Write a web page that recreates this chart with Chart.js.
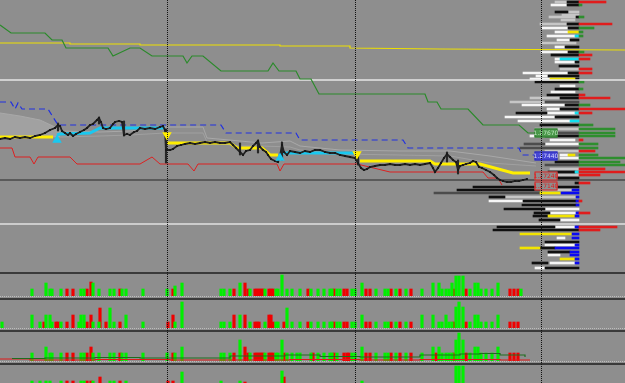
<!DOCTYPE html>
<html>
<head>
<meta charset="utf-8">
<script src="https://cdn.jsdelivr.net/npm/chart.js@4/dist/chart.umd.min.js"></script>
<style>
html, body { margin: 0; padding: 0; width: 625px; height: 383px; overflow: hidden; background: #8e8e8e; }
canvas { position: absolute; left: 0; display: block; }
.sep { position: absolute; left: 0; width: 625px; height: 2px; background: #3a3a3a; z-index: 4; }
.base { position: absolute; left: 0; width: 625px; height: 0; border-top: 1px dotted #bdbdbd; z-index: 3; }
.vline { position: absolute; top: 0; width: 0; height: 383px; border-left: 1px dotted #111; z-index: 5; }
</style>
</head>
<body>
<canvas id="profile" width="625" height="272" style="top:0;z-index:1"></canvas>
<canvas id="main" width="625" height="272" style="top:0;z-index:2"></canvas>
<canvas id="vol1" width="625" height="22" style="top:274px"></canvas>
<canvas id="vol2" width="625" height="28" style="top:300px"></canvas>
<canvas id="vol3" width="625" height="29" style="top:332px"></canvas>
<canvas id="vol4" width="625" height="29" style="top:365px"></canvas>
<div class="sep" style="top:272px"></div>
<div class="sep" style="top:298px"></div>
<div class="sep" style="top:330px"></div>
<div class="sep" style="top:363px"></div>
<div class="base" style="top:296px"></div>
<div class="base" style="top:328px"></div>
<div class="base" style="top:361px"></div>
<div class="vline" style="left:167px"></div>
<div class="vline" style="left:355px"></div>
<div class="vline" style="left:541px"></div>
<script>
const PRICE_MIN = 1.2628, PRICE_MAX = 1.2900;
const BAR_MAX = 625;

// ---- main window lines (bar index, price) ----
const greenX = [0, 11, 45, 52, 62, 66, 108, 113, 130, 140, 152, 183, 187, 192, 203, 221, 268, 273, 279, 296, 300, 311, 319, 425, 428, 437, 441, 468, 483, 519, 528, 536];
const greenP = [1.2875, 1.2867, 1.2867, 1.2860, 1.2860, 1.2852, 1.2852, 1.2844, 1.2852, 1.2852, 1.2844, 1.2844, 1.2837, 1.2844, 1.2844, 1.2829, 1.2829, 1.2837, 1.2829, 1.2829, 1.2821, 1.2821, 1.2806, 1.2806, 1.2798, 1.2798, 1.2791, 1.2791, 1.2775, 1.2775, 1.2767, 1.2767];

const yellowThinX = [0, 70, 70, 140, 140, 280, 280, 350, 350, 440, 625];
const yellowThinP = [1.2857, 1.2857, 1.2856, 1.2856, 1.2855, 1.2855, 1.2854, 1.2854, 1.2852, 1.2851, 1.2850];

const levelX = [0, 625];
const whiteHighP = [1.2820, 1.2820];
const whiteLowP = [1.2676, 1.2676];
const blackLevelP = [1.2720, 1.2720];

const blueX = [0, 11, 15, 18, 22, 48, 58, 221, 226, 296, 300, 403, 408, 519, 522, 536];
const blueP = [1.2798, 1.2798, 1.2791, 1.2797, 1.2791, 1.2791, 1.2775, 1.2775, 1.2767, 1.2767, 1.2760, 1.2760, 1.2752, 1.2752, 1.2745, 1.2745];

const redX = [0, 12, 15, 30, 34, 38, 70, 77, 140, 152, 160, 188, 194, 198, 277, 280, 284, 357, 390, 483, 488, 498, 502];
const redP = [1.2752, 1.2752, 1.2743, 1.2743, 1.2736, 1.2743, 1.2743, 1.2736, 1.2736, 1.2743, 1.2736, 1.2736, 1.2729, 1.2736, 1.2736, 1.2729, 1.2736, 1.2736, 1.2728, 1.2728, 1.2722, 1.2722, 1.2715];

const closeX = [0, 5, 10, 15, 20, 25, 30, 35, 40, 45, 50, 55, 58, 60, 62, 65, 68, 70, 73, 76, 80, 84, 87, 90, 93, 97, 99, 101, 103, 106, 110, 113, 115, 119, 122, 124, 127, 130, 134, 137, 140, 145, 150, 155, 160, 163, 165, 166, 170, 173, 177, 181, 185, 190, 195, 200, 205, 210, 215, 220, 225, 230, 233, 236, 240, 243, 246, 250, 253, 256, 258, 260, 263, 266, 268, 271, 275, 278, 280, 282, 284, 287, 290, 295, 300, 305, 310, 315, 320, 325, 330, 335, 340, 345, 350, 355, 358, 361, 364, 367, 370, 375, 380, 385, 390, 395, 400, 405, 410, 415, 420, 425, 430, 433, 435, 438, 441, 444, 447, 450, 453, 456, 458, 460, 463, 466, 470, 473, 476, 479, 482, 486, 490, 494, 497, 500, 503, 507, 511, 515, 519, 523, 527];
const closeP = [1.2761, 1.2762, 1.2761, 1.2763, 1.2762, 1.2763, 1.2762, 1.2764, 1.2765, 1.2767, 1.2770, 1.2772, 1.2775, 1.2774, 1.2769, 1.2767, 1.2765, 1.2767, 1.2764, 1.2766, 1.2768, 1.2770, 1.2772, 1.2775, 1.2776, 1.2780, 1.2782, 1.2778, 1.2772, 1.2771, 1.2772, 1.2776, 1.2778, 1.2779, 1.2778, 1.2765, 1.2766, 1.2765, 1.2768, 1.2769, 1.2772, 1.2771, 1.2772, 1.2771, 1.2773, 1.2774, 1.2770, 1.2750, 1.2750, 1.2751, 1.2754, 1.2755, 1.2756, 1.2757, 1.2756, 1.2757, 1.2758, 1.2757, 1.2758, 1.2757, 1.2757, 1.2758, 1.2755, 1.2752, 1.2748, 1.2745, 1.2749, 1.2750, 1.2754, 1.2757, 1.2759, 1.2753, 1.2750, 1.2748, 1.2745, 1.2741, 1.2739, 1.2738, 1.2744, 1.2755, 1.2748, 1.2745, 1.2749, 1.2748, 1.2747, 1.2749, 1.2748, 1.2750, 1.2750, 1.2748, 1.2747, 1.2747, 1.2745, 1.2744, 1.2743, 1.2742, 1.2737, 1.2732, 1.2730, 1.2731, 1.2733, 1.2734, 1.2735, 1.2735, 1.2736, 1.2735, 1.2735, 1.2736, 1.2735, 1.2736, 1.2735, 1.2736, 1.2737, 1.2732, 1.2728, 1.2732, 1.2737, 1.2742, 1.2746, 1.2743, 1.2740, 1.2738, 1.2730, 1.2734, 1.2735, 1.2736, 1.2737, 1.2739, 1.2738, 1.2733, 1.2732, 1.2730, 1.2728, 1.2725, 1.2722, 1.2720, 1.2719, 1.2718, 1.2718, 1.2719, 1.2719, 1.2720, 1.2721];

// long candles: bar, low, high
const wickX = [58, 99, 124, 166, 240, 258, 282, 358, 447, 458];
const wickLow = [1.2769, 1.2776, 1.2764, 1.2737, 1.2745, 1.2747, 1.2740, 1.2735, 1.2738, 1.2726];
const wickHigh = [1.2777, 1.2783, 1.2779, 1.2771, 1.2757, 1.2760, 1.2758, 1.2747, 1.2748, 1.2740];

// trend stop line, alternating colour
const trendYellowAX = [0, 53];
const trendYellowAP = [1.2763, 1.2763];
const trendCyanAX = [57, 60, 90, 100, 165];
const trendCyanAP = [1.2765, 1.2766, 1.2767, 1.2772, 1.2772];
const trendYellowBX = [167, 230, 237, 262, 270, 278];
const trendYellowBP = [1.2757, 1.2757, 1.2752, 1.2752, 1.2745, 1.2745];
const trendCyanBX = [283, 355];
const trendCyanBP = [1.2747, 1.2747];
const trendYellowCX = [360, 430, 435, 480, 513, 530];
const trendYellowCP = [1.2739, 1.2739, 1.2736, 1.2736, 1.2727, 1.2727];

// envelope: hatched part on the left, thin lines afterwards
const cloudLeftX = [0, 20, 40, 55, 60];
const cloudLeftTopP = [1.2787, 1.2784, 1.2780, 1.2773, 1.2769];
const cloudLeftBotP = [1.2763, 1.2763, 1.2763, 1.2763, 1.2763];
const cloudX = [60, 100, 130, 165, 203, 207, 240, 262, 290, 300, 340, 400, 450, 490, 536];
const cloudTopP = [1.2769, 1.2768, 1.2769, 1.2773, 1.2773, 1.2762, 1.2759, 1.2757, 1.2759, 1.2754, 1.2750, 1.2749, 1.2749, 1.2744, 1.2737];
const cloudBotP = [1.2763, 1.2764, 1.2765, 1.2767, 1.2767, 1.2758, 1.2754, 1.2754, 1.2753, 1.2750, 1.2746, 1.2745, 1.2744, 1.2737, 1.2734];

const arrowUpX = [57, 280];
const arrowUpP = [1.2760, 1.2742];
const arrowDownX = [167, 357];
const arrowDownP = [1.2765, 1.2746];

const boxBar = 546;
const boxP = [1.2767, 1.2744, 1.2724, 1.2714];
const boxText = ['1.27670', '1.27440', '1.27240', '1.27140'];
const boxFill = ['#4a984a', '#4646d4', '#8e8e8e', '#8e8e8e'];
const boxEdge = ['#2c7a2c', '#2a2ab8', '#e02020', '#e02020'];
const boxInk = ['#bfe8bf', '#d4d4ff', '#e02020', '#e02020'];

// ---- market profile rows: price, from bar, to bar ----
const profLight = [[1.2898, 555, 567], [1.2888, 568, 579], [1.2885, 562, 579], [1.2883, 549, 576], [1.2880, 561, 575], [1.2876, 540, 567], [1.2857, 541, 576], [1.2831, 560, 579], [1.2802, 530, 560], [1.2798, 510, 545], [1.2771, 535, 579], [1.2749, 545, 579], [1.2731, 550, 579], [1.2725, 555, 579], [1.2710, 540, 572], [1.2703, 505, 576]];
const profWhite = [[1.2895, 551, 567], [1.2872, 542, 568], [1.2868, 555, 568], [1.2864, 547, 575], [1.2860, 557, 570], [1.2853, 555, 565], [1.2848, 541, 568], [1.2841, 555, 560], [1.2838, 555, 575], [1.2827, 523, 568], [1.2824, 536, 548], [1.2821, 530, 550], [1.2814, 560, 575], [1.2808, 551, 575], [1.2795, 522, 565], [1.2791, 547, 560], [1.2787, 547, 575], [1.2783, 505, 555], [1.2779, 518, 570], [1.2764, 530, 545], [1.2760, 550, 575], [1.2756, 545, 579], [1.2745, 560, 568], [1.2742, 560, 579], [1.2699, 489, 523], [1.2691, 545, 579], [1.2687, 550, 576], [1.2680, 560, 579], [1.2673, 555, 575], [1.2662, 557, 565], [1.2655, 545, 575], [1.2645, 548, 560], [1.2637, 550, 575], [1.2632, 535, 545]];
const profDark = [[1.2798, 545, 579], [1.2767, 556, 579], [1.2756, 524, 545], [1.2752, 520, 579], [1.2735, 545, 579], [1.2707, 434, 540]];
const profBlack = [[1.2898, 567, 579], [1.2895, 567, 579], [1.2888, 555, 568], [1.2883, 576, 579], [1.2876, 567, 579], [1.2872, 568, 579], [1.2860, 570, 579], [1.2853, 565, 579], [1.2848, 568, 579], [1.2845, 551, 579], [1.2838, 575, 579], [1.2834, 559, 579], [1.2827, 568, 579], [1.2824, 548, 579], [1.2821, 575, 579], [1.2818, 535, 579], [1.2811, 555, 579], [1.2805, 547, 579], [1.2802, 560, 579], [1.2795, 565, 579], [1.2791, 560, 579], [1.2787, 516, 547], [1.2783, 555, 579], [1.2775, 540, 579], [1.2764, 545, 579], [1.2738, 555, 579], [1.2728, 548, 575], [1.2722, 555, 579], [1.2717, 575, 579], [1.2713, 473, 579], [1.2710, 457, 540], [1.2703, 489, 505], [1.2699, 523, 576], [1.2695, 522, 576], [1.2691, 504, 545], [1.2687, 534, 550], [1.2684, 533, 548], [1.2680, 539, 560], [1.2673, 497, 555], [1.2670, 493, 579], [1.2658, 545, 579], [1.2652, 540, 555], [1.2648, 548, 570], [1.2637, 532, 548], [1.2632, 545, 579]];
const profCyan = [[1.2864, 575, 579], [1.2841, 560, 579], [1.2787, 575, 579], [1.2779, 570, 579], [1.2728, 575, 579]];
const profYellow = [[1.2868, 568, 579], [1.2821, 550, 575], [1.2745, 568, 575], [1.2707, 540, 561], [1.2684, 548, 575], [1.2666, 520, 572], [1.2652, 520, 540], [1.2641, 560, 575]];
const profBlue = [[1.2710, 572, 579], [1.2707, 561, 579], [1.2703, 576, 579], [1.2699, 576, 579], [1.2695, 576, 579], [1.2687, 576, 579], [1.2684, 575, 579], [1.2673, 575, 579], [1.2666, 572, 579], [1.2662, 572, 579], [1.2655, 575, 579], [1.2652, 555, 579], [1.2648, 570, 579], [1.2645, 570, 579], [1.2641, 575, 579], [1.2637, 575, 579]];
const profRed = [[1.2898, 579, 606], [1.2876, 579, 612], [1.2845, 579, 592], [1.2841, 579, 590], [1.2831, 579, 592], [1.2827, 579, 592], [1.2805, 579, 585], [1.2802, 579, 610], [1.2791, 579, 625], [1.2787, 579, 592], [1.2760, 579, 583], [1.2749, 579, 595], [1.2731, 579, 605], [1.2728, 579, 625], [1.2725, 579, 600], [1.2717, 579, 590], [1.2699, 579, 582], [1.2687, 579, 590], [1.2673, 579, 617], [1.2670, 579, 600]];
const profGreen = [[1.2895, 579, 582], [1.2883, 579, 584], [1.2872, 579, 594], [1.2868, 579, 583], [1.2864, 579, 583], [1.2848, 579, 584], [1.2818, 579, 584], [1.2811, 579, 583], [1.2795, 579, 590], [1.2775, 579, 593], [1.2771, 579, 615], [1.2767, 579, 615], [1.2764, 579, 615], [1.2756, 579, 598], [1.2752, 579, 598], [1.2745, 579, 598], [1.2742, 579, 625], [1.2738, 579, 620], [1.2735, 579, 625]];

// ---- volume panes ----
const histX = [2, 32, 40, 44, 46, 50, 52, 56, 58, 61, 67, 73, 79, 81, 84, 87, 91, 93, 99, 100, 106, 110, 114, 120, 122, 126, 143, 167, 168, 173, 175, 182, 221, 224, 230, 234, 240, 245, 248, 250, 255, 257, 259, 261, 263, 265, 269, 271, 273, 276, 278, 282, 284, 287, 292, 297, 300, 308, 311, 313, 318, 324, 330, 332, 334, 337, 340, 344, 347, 349, 352, 355, 362, 366, 370, 376, 385, 388, 391, 396, 400, 406, 411, 422, 433, 436, 439, 442, 446, 449, 452, 454, 456, 459, 463, 466, 470, 475, 478, 481, 486, 492, 498, 510, 514, 518, 521];
const histSide = ('gggrgggrrg' + 'rrgggrrggr' + 'rggrggggrr' + 'gggggrgrrg' + 'rrrrrgrrrg' + 'ggrggggrgr' + 'ggggrggrrr' + 'gggrrgggrg' + 'rgrggrgggg' + 'grgggrgggg' + 'gggrrrg').split('');
const vol1 = [0, 7, 0, 0, 13, 7, 7, 0, 0, 7, 7, 7, 0, 7, 7, 7, 14, 13, 7, 0, 0, 7, 7, 7, 7, 7, 7, 7, 0, 7, 10, 13, 7, 7, 7, 7, 13, 13, 7, 7, 7, 7, 7, 7, 7, 7, 7, 7, 7, 7, 7, 21, 0, 7, 7, 0, 7, 7, 7, 0, 7, 7, 7, 7, 7, 7, 7, 7, 7, 0, 7, 7, 13, 7, 7, 7, 7, 7, 7, 7, 7, 7, 7, 7, 13, 0, 13, 7, 7, 7, 13, 7, 20, 20, 20, 7, 7, 13, 13, 7, 7, 7, 13, 7, 7, 7, 7];
const vol2 = [6, 13, 6, 6, 13, 13, 6, 6, 6, 6, 6, 13, 6, 13, 13, 6, 13, 6, 6, 20, 6, 20, 6, 6, 0, 13, 6, 0, 6, 13, 6, 26, 6, 6, 6, 13, 13, 13, 0, 6, 6, 6, 6, 0, 0, 6, 13, 13, 6, 6, 6, 0, 6, 20, 6, 0, 6, 6, 6, 0, 6, 6, 6, 6, 6, 6, 6, 6, 6, 0, 6, 6, 13, 6, 6, 6, 6, 6, 6, 6, 6, 6, 6, 13, 13, 0, 6, 6, 13, 6, 6, 6, 21, 26, 21, 6, 6, 13, 13, 6, 6, 6, 13, 6, 6, 6, 0];
const vol3 = [0, 8, 0, 0, 14, 8, 8, 0, 0, 8, 8, 8, 0, 8, 8, 8, 14, 8, 8, 0, 0, 8, 8, 8, 8, 8, 8, 8, 0, 8, 8, 14, 8, 8, 8, 8, 21, 14, 8, 8, 8, 8, 8, 8, 8, 8, 8, 8, 8, 8, 8, 21, 8, 8, 8, 8, 8, 0, 8, 8, 8, 8, 8, 8, 8, 8, 0, 8, 8, 8, 8, 8, 14, 8, 8, 8, 8, 8, 8, 8, 8, 8, 8, 8, 14, 8, 14, 8, 8, 8, 8, 8, 21, 28, 21, 8, 8, 14, 14, 8, 8, 8, 14, 8, 8, 8, 0];
const vol4 = [0, 13, 13, 0, 13, 13, 0, 0, 0, 13, 13, 13, 0, 13, 13, 13, 13, 13, 0, 17, 0, 13, 13, 13, 0, 13, 0, 0, 13, 13, 0, 22, 13, 0, 0, 0, 13, 12, 0, 0, 0, 0, 0, 0, 0, 0, 0, 0, 0, 0, 0, 23, 17, 0, 0, 0, 0, 0, 0, 0, 0, 0, 0, 0, 0, 0, 0, 0, 0, 0, 0, 0, 13, 0, 0, 0, 0, 0, 0, 0, 0, 0, 0, 0, 0, 0, 0, 0, 0, 0, 0, 0, 28, 28, 28, 0, 0, 0, 0, 0, 0, 0, 0, 0, 0, 0, 0];

// averages drawn in the third pane
const avgGreenX = [12, 20, 45, 95, 140, 160, 200, 230, 260, 285, 320, 360, 420, 460, 480, 500, 525];
const avgGreenV = [2.5, 2.5, 3, 3.5, 3, 3, 3, 5, 5, 6, 4.5, 4, 6, 7, 7.5, 6, 4];
const avgRedX = [0, 30, 95, 170, 230, 290, 360, 420, 500, 530];
const avgRedV = [2, 1, 1.5, 1, 1, 1.5, 1, 1.5, 1, 1];

function pts(xs, ys) {
    return xs.map((x, i) => ({ x: x, y: ys[i] }));
}

function lineSet(xs, ys, color, width, extra) {
    return Object.assign({
        type: 'line',
        data: pts(xs, ys),
        borderColor: color,
        borderWidth: width,
        pointRadius: 0,
        tension: 0,
        fill: false
    }, extra || {});
}

const bareOptions = (yMin, yMax, extra) => Object.assign({
    responsive: false,
    animation: false,
    events: [],
    layout: { padding: 0, autoPadding: false },
    plugins: { legend: { display: false }, tooltip: { enabled: false } },
    scales: {
        x: { type: 'linear', min: 0, max: BAR_MAX, display: false, offset: false },
        y: { type: 'linear', min: yMin, max: yMax, display: false, offset: false }
    }
}, extra || {});

const priceBoxes = {
    id: 'priceBoxes',
    afterDatasetsDraw(chart) {
        const { ctx, scales } = chart;
        ctx.save();
        ctx.font = '6px "DejaVu Sans"';
        ctx.textAlign = 'center';
        ctx.textBaseline = 'middle';
        boxP.forEach((p, i) => {
            const cx = scales.x.getPixelForValue(boxBar);
            const cy = Math.round(scales.y.getPixelForValue(p));
            const w = 23, h = 9;
            ctx.fillStyle = boxFill[i];
            ctx.fillRect(cx - w / 2, cy - h / 2, w, h);
            ctx.strokeStyle = boxEdge[i];
            ctx.lineWidth = 1;
            ctx.strokeRect(cx - w / 2 + 0.5, cy - h / 2 + 0.5, w - 1, h - 1);
            ctx.fillStyle = boxInk[i];
            ctx.fillText(boxText[i], cx, cy + 0.5);
        });
        ctx.restore();
    }
};

// main price window (first datasets are drawn on top)
new Chart(document.getElementById('main'), {
    type: 'line',
    data: {
        datasets: [
            lineSet(arrowUpX, arrowUpP, '#19c8f0', 0, { showLine: false, pointRadius: 5.5, pointStyle: 'triangle', pointBackgroundColor: '#19c8f0', pointBorderWidth: 0 }),
            lineSet(arrowDownX, arrowDownP, '#ffee00', 0, { showLine: false, pointRadius: 5.5, pointStyle: 'triangle', pointRotation: 180, pointBackgroundColor: '#ffee00', pointBorderWidth: 0 }),
            lineSet(closeX, closeP, '#222222', 1.8, { pointRadius: 1.3, pointStyle: 'rect', pointBackgroundColor: '#1a1a1a', pointBorderWidth: 0 }),
            {
                type: 'bar',
                data: wickX.map((x, i) => ({ x: x, y: [wickLow[i], wickHigh[i]] })),
                backgroundColor: '#262626',
                barThickness: 1.5,
                grouped: false
            },
            lineSet(trendYellowAX, trendYellowAP, '#ffee00', 3),
            lineSet(trendCyanAX, trendCyanAP, '#19c8f0', 3),
            lineSet(trendYellowBX, trendYellowBP, '#ffee00', 3),
            lineSet(trendCyanBX, trendCyanBP, '#19c8f0', 3),
            lineSet(trendYellowCX, trendYellowCP, '#ffee00', 3),
            lineSet(redX, redP, '#dd2020', 1),
            lineSet(blueX, blueP, '#2030e0', 1.2, { borderDash: [6, 4] }),
            lineSet(greenX, greenP, '#2a8a2a', 1.2),
            lineSet(yellowThinX, yellowThinP, '#eee000', 1.2),
            lineSet(levelX, whiteHighP, '#e6e6e6', 1.5),
            lineSet(levelX, whiteLowP, '#e0e0e0', 1.5),
            lineSet(levelX, blackLevelP, '#262626', 1.2),
            lineSet(cloudX, cloudTopP, '#a8a8a8', 1),
            lineSet(cloudX, cloudBotP, '#a0a0a0', 1),
            lineSet(cloudLeftX, cloudLeftTopP, '#a8a8a8', 1, { fill: '+1', backgroundColor: 'rgba(176,176,176,0.55)' }),
            lineSet(cloudLeftX, cloudLeftBotP, '#a0a0a0', 1)
        ]
    },
    options: bareOptions(PRICE_MIN, PRICE_MAX),
    plugins: [priceBoxes]
});

// market profile behind the price window
const profSets = [
    [profGreen, '#2e8e2e'],
    [profRed, '#e01c1c'],
    [profBlue, '#0a0af0'],
    [profYellow, '#f2e400'],
    [profCyan, '#10e0f0'],
    [profBlack, '#101010'],
    [profDark, '#4c4c4c'],
    [profWhite, '#f6f6f6'],
    [profLight, '#c6c6c6']
];
new Chart(document.getElementById('profile'), {
    type: 'bar',
    data: {
        datasets: profSets.map(([rows, color]) => ({
            data: rows.map(r => ({ y: r[0], x: [r[1], r[2]] })),
            backgroundColor: color,
            barThickness: 2,
            grouped: false,
            borderWidth: 0
        }))
    },
    options: bareOptions(PRICE_MIN, PRICE_MAX, { indexAxis: 'y' })
});

function volumePane(id, vols, top, lines) {
    const side = s => histX.map((x, i) => ({ x: x, y: vols[i], s: histSide[i] }))
        .filter(d => d.s === s && d.y > 0)
        .map(d => ({ x: d.x, y: d.y }));
    const sets = (lines || []).concat([
        { type: 'bar', data: side('g'), backgroundColor: '#00f000', barThickness: 2.5, grouped: false },
        { type: 'bar', data: side('r'), backgroundColor: '#f00000', barThickness: 2.5, grouped: false }
    ]);
    new Chart(document.getElementById(id), {
        type: 'bar',
        data: { datasets: sets },
        options: bareOptions(0, top)
    });
}

volumePane('vol1', vol1, 22);
volumePane('vol2', vol2, 28);
volumePane('vol3', vol3, 29, [
    lineSet(avgGreenX, avgGreenV, '#1e6e1e', 1.2, { stepped: true }),
    lineSet(avgRedX, avgRedV, '#e01818', 1.2, { stepped: true })
]);
volumePane('vol4', vol4, 29);
</script>
</body>
</html>
